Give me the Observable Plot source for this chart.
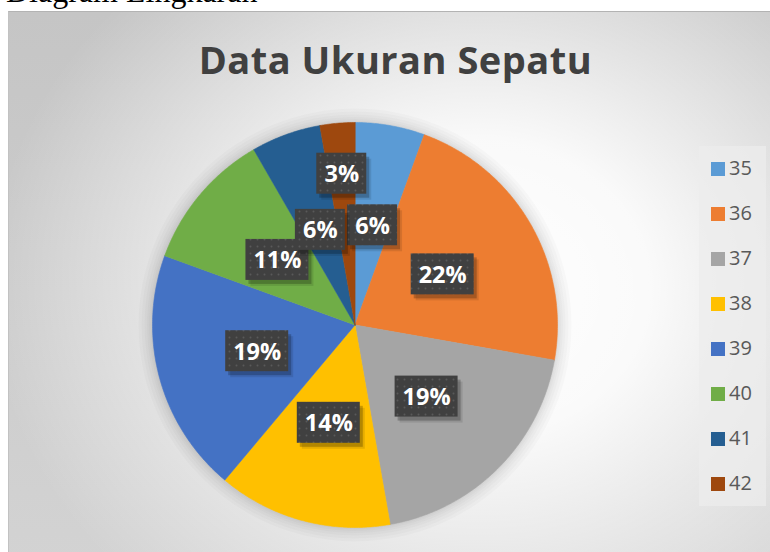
<!DOCTYPE html>
<html><head><meta charset="utf-8">
<script src="https://cdn.jsdelivr.net/npm/d3@7"></script>
<script src="https://cdn.jsdelivr.net/npm/@observablehq/plot@0.6"></script>
<style>
html,body{margin:0;padding:0;background:#fff;}
#page{position:relative;width:770px;height:552px;overflow:hidden;background:#fff;}
#doc{position:absolute;left:6px;top:-25px;font-family:"Liberation Serif","Times New Roman",serif;font-size:32px;line-height:32px;color:#000;white-space:nowrap;}
#frame{position:absolute;left:8px;top:11px;width:770px;height:560px;border-top:1px solid #b3b3b3;border-left:1px solid #c2c2c2;
  background:
    radial-gradient(ellipse 490px 420px at 470px 275px, rgba(255,255,255,1) 0%, rgba(255,255,255,0.9) 35%, rgba(255,255,255,0) 100%),
    linear-gradient(to bottom, #c5c5c5, #d3d3d3);}
#title{position:absolute;left:0;top:27.5px;width:773px;text-align:center;font-family:"Open Sans",sans-serif;font-weight:700;font-size:38px;line-height:38px;color:#404040;letter-spacing:0.5px;white-space:nowrap;}
#chart{position:absolute;left:0;top:0;}
#legend{position:absolute;left:690px;top:134px;width:67px;height:360px;background:rgba(236,236,236,0.75);}
.li{position:absolute;left:0;height:20px;}
.sw{position:absolute;left:12px;width:14px;height:14px;}
.lt{position:absolute;left:30px;font-family:"Open Sans",sans-serif;font-size:20px;line-height:20px;color:#595959;white-space:nowrap;}
</style></head>
<body>
<div id="page">
  <div id="doc">Diagram Lingkaran</div>
  <div id="frame">
    <div id="chart"></div>
    <div id="title">Data Ukuran Sepatu</div>
    <div id="legend"></div>
  </div>
</div>
<script>
// ---- data ----
const sizes  = ["35","36","37","38","39","40","41","42"];
const counts = [2, 8, 7, 5, 7, 4, 2, 1];
const colors = ["#5B9BD5","#ED7D31","#A5A5A5","#FFC000","#4472C4","#70AD47","#255E91","#9E480E"];

// ---- layout ----
const W = 761, H = 540;
const cx = 345.5, cy = 312.5, R = 202.5;

const table = sizes.map((s, i) => ({size: s, count: counts[i]}));
const total = d3.sum(counts);
const arcs = d3.pie().sort(null).value(d => d.count)(table);

// slice outlines (polygon points along each arc)
const pts = [];
arcs.forEach(a => {
  const s = a.data.size;
  pts.push({size: s, x: 0, y: 0});
  const n = Math.max(2, Math.ceil((a.endAngle - a.startAngle) / (Math.PI / 360)));
  for (let k = 0; k <= n; k++) {
    const t = a.startAngle + (a.endAngle - a.startAngle) * k / n;
    pts.push({size: s, x: Math.sin(t), y: Math.cos(t)});
  }
});

// labels
const labels = arcs.map(a => {
  const share = a.data.count / total;
  const mid = (a.startAngle + a.endAngle) / 2;
  const rr = share < 0.04 ? 0.75 : 0.5;
  const text = Math.round(share * 100) + "%";
  return {size: a.data.size, text, lx: rr * Math.sin(mid), ly: rr * Math.cos(mid)};
});

const marks = [];
// soft shadow around the pie
[14, 11, 8, 5.5, 3.5, 1.8].forEach(k => {
  marks.push(Plot.dot([{x: 0, y: 0}], {x: "x", y: "y", r: R + k, fill: "#000", fillOpacity: 0.018, stroke: "none"}));
});
marks.push(Plot.line(pts, {x: "x", y: "y", z: "size", fill: "size", stroke: "size", strokeWidth: 0.6, curve: "linear-closed"}));
labels.forEach(l => {
  const hw = l.text.length > 2 ? 31.5 : 25;
  const hh = 20.5;
  const ins = {insetLeft: -hw, insetRight: -hw, insetTop: -hh, insetBottom: -hh};
  marks.push(Plot.rect([l], {x1: "lx", x2: "lx", y1: "ly", y2: "ly", ...ins, dx: 5, dy: 6, fill: "#000", fillOpacity: 0.1}));
  marks.push(Plot.rect([l], {x1: "lx", x2: "lx", y1: "ly", y2: "ly", ...ins, dx: 3, dy: 4, fill: "#000", fillOpacity: 0.22}));
  marks.push(Plot.rect([l], {x1: "lx", x2: "lx", y1: "ly", y2: "ly", ...ins, fill: "url(#dotpat)"}));
  marks.push(Plot.text([l], {x: "lx", y: "ly", text: "text", fill: "#fff", fontSize: 23.5, fontWeight: 700, fontFamily: "Open Sans, sans-serif", textAnchor: "middle", lineAnchor: "middle", dy: 1}));
});

const chart = Plot.plot({
  width: W, height: H, margin: 0,
  x: {domain: [-1, 1], range: [cx - R, cx + R], axis: null},
  y: {domain: [-1, 1], range: [cy + R, cy - R], axis: null},
  color: {domain: sizes, range: colors},
  style: {background: "transparent", overflow: "visible"},
  marks
});

// dotted texture for label boxes
const ns = "http://www.w3.org/2000/svg";
const defs = document.createElementNS(ns, "defs");
defs.innerHTML = '<pattern id="dotpat" width="7" height="7" patternUnits="userSpaceOnUse">' +
  '<rect width="7" height="7" fill="#404040"/><circle cx="3.5" cy="3.5" r="1" fill="#595959"/></pattern>';
chart.insertBefore(defs, chart.firstChild);
document.getElementById("chart").appendChild(chart);

// legend
const color = chart.scale("color");
const lg = document.getElementById("legend");
sizes.forEach((s, i) => {
  const item = document.createElement("div");
  item.className = "li";
  item.style.top = (16 + 45 * i) + "px";
  const sw = document.createElement("div");
  sw.className = "sw";
  sw.style.top = "0px";
  sw.style.background = color.apply(s);
  const t = document.createElement("div");
  t.className = "lt";
  t.style.top = "-3.6px";
  t.textContent = s;
  item.appendChild(sw); item.appendChild(t);
  lg.appendChild(item);
});
</script>
</body></html>
